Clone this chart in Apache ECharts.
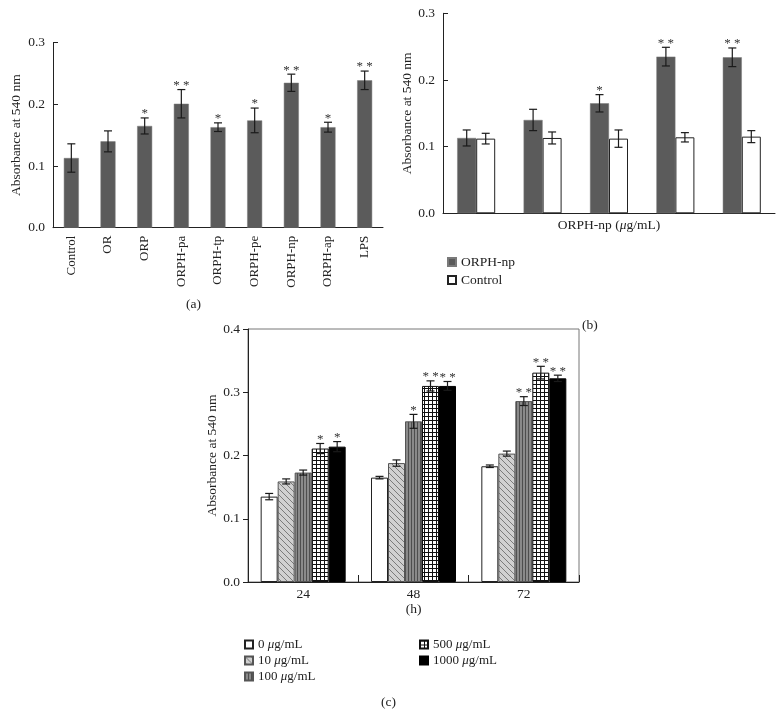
<!DOCTYPE html>
<html>
<head>
<meta charset="utf-8">
<script src="https://cdn.jsdelivr.net/npm/echarts@6/dist/echarts.min.js"></script>
<style>html,body{margin:0;padding:0;background:#fff}#c{width:783px;height:718px}</style>
</head>
<body>
<div id="c"></div>
<script>
// ---- Panel (a) ----
const catA = ['Control','OR','ORP','ORPH-pa','ORPH-tp','ORPH-pe','ORPH-np','ORPH-ap','LPS'];
const valA = [0.113,0.140,0.165,0.201,0.163,0.174,0.235,0.163,0.239];
const errA = [0.023,0.017,0.013,0.023,0.007,0.020,0.014,0.008,0.015];
const starA = [0,0,1,2,1,1,2,1,2];
// ---- Panel (b) ----
const catB = ['0','10','100','500','1000'];
const npB = [0.113,0.140,0.165,0.235,0.234];
const npErrB = [0.012,0.016,0.013,0.014,0.014];
const npStarB = [0,0,1,2,2];
const ctrlB = [0.112,0.113,0.112,0.114,0.115];
const ctrlErrB = [0.008,0.009,0.013,0.007,0.009];
const ctrlStarB = [0,0,0,0,0];
// ---- Panel (c) ----
const catC = ['24','48','72'];
const namesC = ['0 μg/mL','10 μg/mL','100 μg/mL','500 μg/mL','1000 μg/mL'];
const c0 = [0.135,0.165,0.183];   const e0 = [0.005,0.002,0.002];   const s0 = [0,0,0];
const c10 = [0.159,0.188,0.203];  const e10 = [0.004,0.005,0.004];  const s10 = [0,0,0];
const c100 = [0.173,0.254,0.286]; const e100 = [0.004,0.011,0.007]; const s100 = [0,1,2];
const c500 = [0.211,0.310,0.331]; const e500 = [0.008,0.008,0.010]; const s500 = [1,2,2];
const c1000 = [0.214,0.310,0.322];const e1000 = [0.008,0.007,0.005];const s1000 = [1,2,2];

const FONT = "'Liberation Serif','DejaVu Serif',serif";

function makeCanvas(w,h,draw){const c=document.createElement('canvas');c.width=w;c.height=h;draw(c.getContext('2d'));return c;}
const patDiag = makeCanvas(6,6,g=>{g.fillStyle='#d0d0d0';g.fillRect(0,0,6,6);g.strokeStyle='#7a7a7a';g.lineWidth=1;
  g.beginPath();g.moveTo(0,0);g.lineTo(6,6);g.moveTo(-6,0);g.lineTo(0,6);g.moveTo(6,0);g.lineTo(12,6);g.stroke();});
const patVert = makeCanvas(3,1,g=>{g.fillStyle='#8a8a8a';g.fillRect(0,0,3,1);g.fillStyle='#4e4e4e';g.fillRect(0,0,1,1);});
const patGrid = makeCanvas(4,4,g=>{g.fillStyle='#111';g.fillRect(0,0,4,4);g.fillStyle='#fff';g.fillRect(1,1,3,3);});

const chart = echarts.init(document.getElementById('c'), null, {renderer:'canvas'});

function errSeries(name, gi, vals, errs, stars, idx, n, bw){
  return {
    name: name, type:'custom', xAxisIndex: gi, yAxisIndex: gi, z: 10, silent: true,
    data: vals.map((v,i)=>[i, v, errs[i], stars[i]]),
    encode: {x:0, y:1},
    renderItem: function(params, api){
      const x = api.value(0), v = api.value(1), e = api.value(2), s = api.value(3);
      const off = (idx - (n-1)/2) * bw;
      const top = api.coord([x, v+e]); const bot = api.coord([x, v-e]);
      const cx = top[0] + off; const cap = 4;
      const st = {stroke:'#1a1a1a', lineWidth:1.2};
      const children = [
        {type:'line', shape:{x1:cx,y1:top[1],x2:cx,y2:bot[1]}, style:st},
        {type:'line', shape:{x1:cx-cap,y1:top[1],x2:cx+cap,y2:top[1]}, style:st},
        {type:'line', shape:{x1:cx-cap,y1:bot[1],x2:cx+cap,y2:bot[1]}, style:st}
      ];
      if (s > 0) {
        children.push({type:'text', style:{text: s===2?'* *':'*', x:cx, y:top[1]-4, align:'center', verticalAlign:'middle',
          font: '13px ' + FONT, fill:'#333'}});
      }
      return {type:'group', children: children};
    }
  };
}

const yAxisBase = (gi, max, gap, ticksIn) => ({
  type:'value', gridIndex: gi, min:0, max:max, interval:0.1,
  name:'Absorbance at 540 nm', nameLocation:'middle', nameGap: gap,
  nameTextStyle:{fontFamily:FONT, fontSize:13.5, color:'#222'},
  axisLine:{show:true, lineStyle:{color:'#222', width:1}},
  axisTick:{show:true, inside: ticksIn, length:5, lineStyle:{color:'#222'}},
  axisLabel:{fontFamily:FONT, fontSize:13.5, color:'#222', margin:8, formatter: v=>v.toFixed(1)},
  splitLine:{show:false}
});

const legRich = {n:{fontFamily:FONT,fontSize:13,color:'#222'},i:{fontFamily:FONT,fontSize:13,fontStyle:'italic',color:'#222'}};
const legFmt = nm => { const p = nm.split(' '); return '{n|'+p[0]+' }{i|μ}{n|g/mL}'; };

const option = {
  animation:false,
  backgroundColor:'#fff',
  grid:[
    {left:53, width:330, top:42.7, height:185, containLabel:false, outerBoundsMode:'none'},
    {left:443, width:332, top:13.3, height:200, containLabel:false, outerBoundsMode:'none'},
    {left:248, width:331, top:329, height:253, containLabel:false, outerBoundsMode:'none', show:true, borderColor:'#777', borderWidth:1}
  ],
  xAxis:[
    {type:'category', gridIndex:0, data:catA,
     axisLine:{show:true, lineStyle:{color:'#222'}}, axisTick:{show:false},
     axisLabel:{rotate:90, fontFamily:FONT, fontSize:13, color:'#222', margin:8, interval:0}},
    {type:'category', gridIndex:1, data:catB,
     name:'ORPH-np ({i|μ}g/mL)', nameLocation:'middle', nameGap:5,
     nameTextStyle:{fontFamily:FONT, fontSize:13.5, color:'#222', rich:{i:{fontFamily:FONT, fontSize:13.5, fontStyle:'italic', color:'#222'}}},
     axisLine:{show:true, lineStyle:{color:'#222'}}, axisTick:{show:false}, axisLabel:{show:false}},
    {type:'category', gridIndex:2, data:catC,
     name:'(h)', nameLocation:'middle', nameGap:20,
     nameTextStyle:{fontFamily:FONT, fontSize:13.5, color:'#222'},
     axisLine:{show:true, lineStyle:{color:'#222'}},
     axisTick:{show:true, inside:true, length:7, lineStyle:{color:'#222'}},
     axisLabel:{fontFamily:FONT, fontSize:13.5, color:'#222', margin:5}}
  ],
  yAxis:[
    yAxisBase(0, 0.3, 30, true),
    yAxisBase(1, 0.3, 29, true),
    yAxisBase(2, 0.4, 27, false)
  ],
  legend:[
    {data:['ORPH-np','Control'], orient:'vertical', left:447, top:255, padding:0, itemWidth:8, itemHeight:8, itemGap:4,
     icon:'rect', textStyle:{fontFamily:FONT, fontSize:13.5, color:'#222'}, selectedMode:false},
    {data:namesC.slice(0,3), orient:'vertical', left:244, top:638, padding:0, itemWidth:8, itemHeight:8, itemGap:3,
     icon:'rect', textStyle:{fontFamily:FONT, fontSize:13, color:'#222', rich:legRich}, formatter: legFmt, selectedMode:false},
    {data:namesC.slice(3), orient:'vertical', left:419, top:638, padding:0, itemWidth:8, itemHeight:8, itemGap:3,
     icon:'rect', textStyle:{fontFamily:FONT, fontSize:13, color:'#222', rich:legRich}, formatter: legFmt, selectedMode:false}
  ],
  graphic:[
    {type:'text', left:186, top:297, style:{text:'(a)', font:'13.5px '+FONT, fill:'#222'}},
    {type:'text', left:582, top:318, style:{text:'(b)', font:'13.5px '+FONT, fill:'#222'}},
    {type:'text', left:381, top:695, style:{text:'(c)', font:'13.5px '+FONT, fill:'#222'}}
  ],
  series:[
    {name:'Absorbance (a)', type:'bar', xAxisIndex:0, yAxisIndex:0, data:valA, barWidth:15,
     itemStyle:{color:'#5b5b5b', borderColor:'#7a7a7a', borderWidth:0.5}},
    errSeries('err a', 0, valA, errA, starA, 0, 1, 15),

    {name:'ORPH-np', type:'bar', xAxisIndex:1, yAxisIndex:1, data:npB, barWidth:19, barGap:'0%',
     itemStyle:{color:'#5b5b5b', borderColor:'#7a7a7a', borderWidth:0.5}},
    {name:'Control', type:'bar', xAxisIndex:1, yAxisIndex:1, data:ctrlB, barWidth:19, barGap:'0%',
     itemStyle:{color:'#ffffff', borderColor:'#222', borderWidth:1}},
    errSeries('err b1', 1, npB, npErrB, npStarB, 0, 2, 19),
    errSeries('err b2', 1, ctrlB, ctrlErrB, ctrlStarB, 1, 2, 19),

    {name:namesC[0], type:'bar', xAxisIndex:2, yAxisIndex:2, data:c0, barWidth:17, barGap:'0%',
     itemStyle:{color:'#ffffff', borderColor:'#222', borderWidth:1}},
    {name:namesC[1], type:'bar', xAxisIndex:2, yAxisIndex:2, data:c10, barWidth:17, barGap:'0%',
     itemStyle:{color:{image:patDiag, repeat:'repeat'}, borderColor:'#555', borderWidth:1}},
    {name:namesC[2], type:'bar', xAxisIndex:2, yAxisIndex:2, data:c100, barWidth:17, barGap:'0%',
     itemStyle:{color:{image:patVert, repeat:'repeat'}, borderColor:'#555', borderWidth:1}},
    {name:namesC[3], type:'bar', xAxisIndex:2, yAxisIndex:2, data:c500, barWidth:17, barGap:'0%',
     itemStyle:{color:{image:patGrid, repeat:'repeat'}, borderColor:'#111', borderWidth:1}},
    {name:namesC[4], type:'bar', xAxisIndex:2, yAxisIndex:2, data:c1000, barWidth:17, barGap:'0%',
     itemStyle:{color:'#000000', borderColor:'#000', borderWidth:1}},
    errSeries('err c0', 2, c0, e0, s0, 0, 5, 17),
    errSeries('err c1', 2, c10, e10, s10, 1, 5, 17),
    errSeries('err c2', 2, c100, e100, s100, 2, 5, 17),
    errSeries('err c3', 2, c500, e500, s500, 3, 5, 17),
    errSeries('err c4', 2, c1000, e1000, s1000, 4, 5, 17)
  ]
};
chart.setOption(option);
</script>
</body>
</html>
